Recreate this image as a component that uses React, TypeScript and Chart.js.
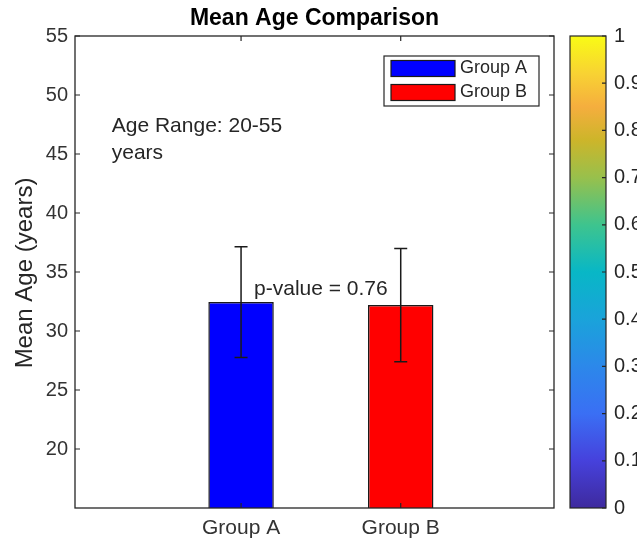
import { useEffect, useRef } from 'react';
import { Chart, registerables } from 'chart.js';

Chart.register(...registerables);

const FONT = '"Liberation Sans", Arial, Helvetica, sans-serif';

// ---- data ----
const categories = ['Group A', 'Group B'];
const xPositions = [1, 2];
const means = [32.45, 32.2];
const errors = [4.7, 4.8];
const barColors = ['#0000ff', '#ff0000'];
const yTicks = [20, 25, 30, 35, 40, 45, 50, 55];
const colorbarTicks = [0, 0.1, 0.2, 0.3, 0.4, 0.5, 0.6, 0.7, 0.8, 0.9, 1];
const colorbarLabels = ['0', '0.1', '0.2', '0.3', '0.4', '0.5', '0.6', '0.7', '0.8', '0.9', '1'];
const parulaStops = [
  [0.0, '#3e2a9e'],
  [0.1, '#4641dc'],
  [0.2, '#3a6ff4'],
  [0.3, '#2c88ea'],
  [0.4, '#1aa3da'],
  [0.5, '#08b7c6'],
  [0.6, '#3ec48e'],
  [0.7, '#98c04c'],
  [0.78, '#cdb52a'],
  [0.85, '#f5ae3e'],
  [0.92, '#f8d233'],
  [1.0, '#f9fb15'],
];
const titleText = 'Mean Age Comparison';
const yLabel = 'Mean Age (years)';
const ageRangeLines = ['Age Range: 20-55', 'years'];
const ageRangePos = { x: 0.19, y: 46.2 };
const pValueText = 'p-value = 0.76';
const pValuePos = { x: 1.5, y: 33.5 };

const AXIS = '#262626';

const decorPlugin = {
  id: 'decor',
  afterDatasetsDraw(chart: any) {
    const { ctx, scales } = chart;
    const xs = scales.x;
    const ys = scales.y;
    ctx.save();
    // error bars
    ctx.strokeStyle = '#1a1a1a';
    ctx.lineWidth = 1.5;
    xPositions.forEach((xv, i) => {
      const px = xs.getPixelForValue(xv);
      const top = ys.getPixelForValue(means[i] + errors[i]);
      const bot = ys.getPixelForValue(means[i] - errors[i]);
      ctx.beginPath();
      ctx.moveTo(px, top);
      ctx.lineTo(px, bot);
      ctx.moveTo(px - 6.5, top);
      ctx.lineTo(px + 6.5, top);
      ctx.moveTo(px - 6.5, bot);
      ctx.lineTo(px + 6.5, bot);
      ctx.stroke();
    });
    ctx.restore();
  },
  afterDraw(chart: any) {
    const { ctx, chartArea, scales } = chart;
    const xs = scales.x;
    const ys = scales.y;
    const { left, right, top, bottom } = chartArea;
    ctx.save();
    // frame
    ctx.strokeStyle = AXIS;
    ctx.lineWidth = 1.3;
    ctx.strokeRect(left, top, right - left, bottom - top);
    // ticks
    ctx.lineWidth = 1.2;
    ctx.beginPath();
    yTicks.forEach((v) => {
      const py = ys.getPixelForValue(v);
      ctx.moveTo(left, py);
      ctx.lineTo(left + 5, py);
      ctx.moveTo(right, py);
      ctx.lineTo(right - 5, py);
    });
    xPositions.forEach((v) => {
      const px = xs.getPixelForValue(v);
      ctx.moveTo(px, bottom);
      ctx.lineTo(px, bottom - 5);
      ctx.moveTo(px, top);
      ctx.lineTo(px, top + 5);
    });
    ctx.stroke();

    // texts
    ctx.fillStyle = '#262626';
    ctx.font = `21px ${FONT}`;
    ctx.textAlign = 'left';
    ctx.textBaseline = 'middle';
    const ax = xs.getPixelForValue(ageRangePos.x);
    const ay = ys.getPixelForValue(ageRangePos.y);
    ageRangeLines.forEach((l, i) => {
      ctx.fillText(l, ax, ay + (i - (ageRangeLines.length - 1) / 2) * 27);
    });
    ctx.textAlign = 'center';
    ctx.fillText(pValueText, xs.getPixelForValue(pValuePos.x), ys.getPixelForValue(pValuePos.y));

    // title
    ctx.font = `bold 23px ${FONT}`;
    ctx.fillStyle = '#000';
    ctx.textBaseline = 'alphabetic';
    ctx.fillText(titleText, (left + right) / 2, 25);

    // y label
    ctx.save();
    ctx.translate(25, (top + bottom) / 2 + 1);
    ctx.rotate(-Math.PI / 2);
    ctx.font = `24px ${FONT}`;
    ctx.fillStyle = '#262626';
    ctx.textAlign = 'center';
    ctx.textBaseline = 'middle';
    ctx.fillText(yLabel, 0, 0);
    ctx.restore();

    // legend
    const lx0 = 384, ly0 = 56, lw = 155, lh = 50;
    ctx.fillStyle = '#fff';
    ctx.fillRect(lx0, ly0, lw, lh);
    ctx.strokeStyle = AXIS;
    ctx.lineWidth = 1.2;
    ctx.strokeRect(lx0, ly0, lw, lh);
    ctx.font = `18px ${FONT}`;
    ctx.textAlign = 'left';
    ctx.textBaseline = 'middle';
    chart.data.datasets.forEach((ds: any, i: number) => {
      const cy = ly0 + 12.5 + i * 24;
      ctx.fillStyle = ds.backgroundColor;
      ctx.fillRect(lx0 + 7, cy - 8, 64, 16);
      ctx.strokeStyle = '#1a1a1a';
      ctx.lineWidth = 1.2;
      ctx.strokeRect(lx0 + 7, cy - 8, 64, 16);
      ctx.fillStyle = '#262626';
      ctx.fillText(ds.label, lx0 + 76, cy);
    });

    // colorbar
    const cbL = 570, cbR = 606;
    const grad = ctx.createLinearGradient(0, bottom, 0, top);
    parulaStops.forEach(([p, c]) => grad.addColorStop(p as number, c as string));
    ctx.fillStyle = grad;
    ctx.fillRect(cbL, top, cbR - cbL, bottom - top);
    ctx.strokeStyle = AXIS;
    ctx.lineWidth = 1.2;
    ctx.strokeRect(cbL, top, cbR - cbL, bottom - top);
    ctx.beginPath();
    ctx.font = `20px ${FONT}`;
    ctx.fillStyle = '#262626';
    ctx.textAlign = 'left';
    ctx.textBaseline = 'middle';
    colorbarTicks.forEach((t, i) => {
      const py = bottom - t * (bottom - top);
      ctx.moveTo(cbR, py);
      ctx.lineTo(cbR - 4, py);
      ctx.fillText(colorbarLabels[i], cbR + 8, py);
    });
    ctx.stroke();
    ctx.restore();
  },
};

export default function App() {
  const ref = useRef<HTMLCanvasElement>(null);
  useEffect(() => {
    document.body.style.margin = '0';
    const canvas = ref.current!;
    const chart = new Chart(canvas, {
      type: 'bar',
      data: {
        datasets: categories.map((c, i) => ({
          label: c,
          data: [{ x: xPositions[i], y: means[i] }],
          backgroundColor: barColors[i],
          borderColor: '#1a1a1a',
          borderWidth: 1.5,
          borderSkipped: false,
          barPercentage: 0.41,
          categoryPercentage: 1,
          grouped: false,
        })),
      },
      options: {
        responsive: false,
        animation: false,
        events: [],
        layout: { padding: { top: 36, right: 83, left: 0, bottom: 0 } },
        plugins: { legend: { display: false }, tooltip: { enabled: false }, title: { display: false } },
        scales: {
          x: {
            type: 'linear',
            min: -0.04,
            max: 2.96,
            offset: false,
            grid: { display: false, drawTicks: false },
            border: { display: false },
            afterBuildTicks: (s: any) => {
              s.ticks = xPositions.map((v) => ({ value: v }));
            },
            afterFit: (s: any) => {
              s.height = 37;
            },
            ticks: {
              padding: 8,
              autoSkip: false,
              maxRotation: 0,
              color: '#333',
              font: { family: FONT, size: 21 },
              callback: (_v: any, i: number) => categories[i],
            },
          },
          y: {
            type: 'linear',
            min: 15,
            max: 55,
            grid: { display: false, drawTicks: false },
            border: { display: false },
            afterBuildTicks: (s: any) => {
              s.ticks = yTicks.map((v) => ({ value: v }));
            },
            afterFit: (s: any) => {
              s.width = 75;
            },
            ticks: {
              padding: 7,
              color: '#333',
              font: { family: FONT, size: 20 },
              callback: (v: any) => String(v),
            },
          },
        },
      },
      plugins: [decorPlugin],
    });
    return () => chart.destroy();
  }, []);
  return (
    <div style={{ width: 637, height: 545, background: '#fff' }}>
      <canvas ref={ref} width={637} height={545} style={{ display: 'block' }} />
    </div>
  );
}
